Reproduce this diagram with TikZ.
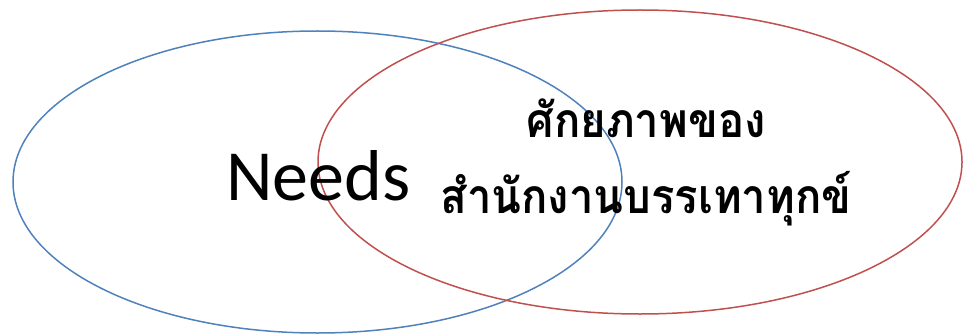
\documentclass[tikz,border=0pt]{standalone}
\usepackage{fontspec}
\usepackage{graphicx}
\newfontfamily\thaifont[Script=Thai]{Loma}
\newfontfamily\calibrifont{Carlito}
\usetikzlibrary{shapes.geometric}

\definecolor{needsblue}{RGB}{79,129,189}
\definecolor{capred}{RGB}{192,80,77}

\tikzset{
  setring/.style={ellipse, draw, line width=1.5pt, inner sep=0pt, fill=none},
  maintxt/.style={text=black, inner sep=0pt, anchor=base},
  thaitxt/.style={maintxt, font=\thaifont\bfseries\fontsize{48}{56}\selectfont},
}
\newcommand{\narrowthai}[1]{\scalebox{0.91}[1]{#1}}

\begin{document}
\begin{tikzpicture}[x=1pt, y=-1pt]

  %% ════ 两个集合 ════
  \node[setring, draw=needsblue, minimum width=609pt, minimum height=302pt] (needsset) at (317.5,182.0) {};
  \node[setring, draw=capred, minimum width=644pt, minimum height=304pt] (capset) at (640.0,162.0) {};

  %% ════ 标签 ════
  \node[maintxt, font=\calibrifont\fontsize{72}{86}\selectfont] (needs) at (318.5,200.0) {Needs};
  \node[thaitxt] (cap1) at (646.0,137.0) {\narrowthai{ศักยภาพของ}};
  \node[thaitxt] (cap2) at (646.0,213.0) {\narrowthai{สำนักงานบรรเทาทุกข์}};

  % 画布
  \pgfresetboundingbox
  \path[use as bounding box] (0,0) rectangle (963,334);
\end{tikzpicture}
\end{document}
